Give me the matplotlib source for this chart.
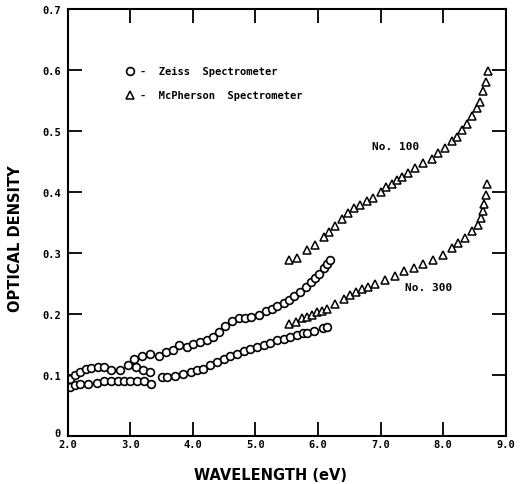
import numpy as np
import matplotlib
matplotlib.use('Agg')
from matplotlib import pyplot as plt
from matplotlib.transforms import ScaledTranslation

# Zeiss spectrometer, sample No. 100 (two scans)
zeiss100_x_a = [2.03, 2.12, 2.20, 2.29, 2.38, 2.48, 2.58, 2.70, 2.83, 2.97, 3.09, 3.21, 3.32]
zeiss100_y_a = [0.094, 0.100, 0.106, 0.110, 0.112, 0.113, 0.113, 0.109, 0.109, 0.116, 0.114, 0.109, 0.106]
zeiss100_x_b = [3.06, 3.18, 3.32, 3.46, 3.57, 3.68, 3.78, 3.91, 4.01, 4.12, 4.22, 4.33, 4.42,
                4.51, 4.62, 4.73, 4.84, 4.93, 5.05, 5.17, 5.26, 5.35, 5.46, 5.54, 5.62, 5.71,
                5.81, 5.89, 5.95, 6.02, 6.09, 6.15, 6.19]
zeiss100_y_b = [0.127, 0.131, 0.134, 0.131, 0.138, 0.142, 0.149, 0.146, 0.151, 0.155, 0.158,
                0.163, 0.171, 0.180, 0.189, 0.193, 0.194, 0.195, 0.199, 0.205, 0.209, 0.214,
                0.218, 0.224, 0.230, 0.237, 0.245, 0.252, 0.259, 0.266, 0.275, 0.283, 0.288]

# Zeiss spectrometer, sample No. 300 (two scans)
zeiss300_x_a = [2.04, 2.12, 2.20, 2.33, 2.47, 2.58, 2.70, 2.81, 2.90, 3.00, 3.10, 3.22, 3.33]
zeiss300_y_a = [0.080, 0.084, 0.086, 0.086, 0.088, 0.090, 0.090, 0.090, 0.091, 0.091, 0.091,
                0.090, 0.086]
zeiss300_x_b = [3.50, 3.59, 3.71, 3.85, 3.97, 4.06, 4.16, 4.27, 4.38, 4.49, 4.59, 4.70, 4.81,
                4.91, 5.02, 5.14, 5.24, 5.35, 5.46, 5.55, 5.66, 5.76, 5.83, 5.93, 6.08, 6.14]
zeiss300_y_b = [0.097, 0.097, 0.098, 0.102, 0.106, 0.108, 0.111, 0.117, 0.122, 0.127, 0.131,
                0.135, 0.139, 0.143, 0.146, 0.150, 0.153, 0.157, 0.160, 0.163, 0.166, 0.169,
                0.170, 0.172, 0.177, 0.179]

# McPherson spectrometer
mcp100_x = [5.53, 5.67, 5.83, 5.95, 6.09, 6.18, 6.27, 6.38, 6.48, 6.57, 6.67, 6.78, 6.88,
            7.00, 7.09, 7.18, 7.26, 7.34, 7.44, 7.55, 7.68, 7.82, 7.92, 8.03, 8.14, 8.22,
            8.30, 8.38, 8.46, 8.54, 8.59, 8.63, 8.69, 8.72]
mcp100_y = [0.288, 0.292, 0.305, 0.314, 0.326, 0.335, 0.345, 0.356, 0.366, 0.374, 0.379,
            0.385, 0.390, 0.400, 0.408, 0.414, 0.420, 0.425, 0.432, 0.440, 0.447, 0.455,
            0.464, 0.473, 0.483, 0.491, 0.501, 0.512, 0.524, 0.537, 0.548, 0.565, 0.581, 0.598]
mcp300_x = [5.53, 5.65, 5.74, 5.83, 5.91, 5.99, 6.07, 6.15, 6.27, 6.41, 6.51, 6.61, 6.70,
            6.80, 6.91, 7.07, 7.23, 7.38, 7.53, 7.68, 7.83, 7.99, 8.14, 8.24, 8.35, 8.46,
            8.55, 8.60, 8.64, 8.65, 8.69, 8.70]
mcp300_y = [0.184, 0.188, 0.193, 0.195, 0.198, 0.203, 0.206, 0.209, 0.216, 0.225, 0.232,
            0.237, 0.242, 0.245, 0.249, 0.256, 0.263, 0.270, 0.276, 0.282, 0.289, 0.297,
            0.308, 0.316, 0.325, 0.336, 0.346, 0.357, 0.369, 0.381, 0.395, 0.413]

xticks = [2.0, 3.0, 4.0, 5.0, 6.0, 7.0, 8.0, 9.0]
xlabels = ['2.0', '3.0', '4.0', '5.0', '6.0', '7.0', '8.0', '9.0']
yticks = [0, 0.1, 0.2, 0.3, 0.4, 0.5, 0.6, 0.7]
ylabels = ['0', '0.1', '0.2', '0.3', '0.4', '0.5', '0.6', '0.7']

mono = 'DejaVu Sans Mono'

fig = plt.figure(figsize=(5.23, 4.85), dpi=100)
ax = fig.add_axes([0.1294, 0.0984, 0.8376, 0.881])

circ = dict(marker='o', ms=5.6, mfc='white', mec='black', mew=1.2, ls='none')
tri = dict(marker='^', ms=6, mfc='white', mec='black', mew=1.1, ls='none')

ax.plot(zeiss100_x_a, zeiss100_y_a, **circ)
ax.plot(zeiss100_x_b, zeiss100_y_b, **circ)
ax.plot(zeiss300_x_a, zeiss300_y_a, **circ)
ax.plot(zeiss300_x_b, zeiss300_y_b, **circ)
ax.plot(mcp100_x, mcp100_y, **tri)
ax.plot(mcp300_x, mcp300_y, **tri)

# hand drawn legend
ax.plot([3.0], [0.598], **circ)
ax.plot([3.0], [0.559], **tri)
ax.text(3.15, 0.598, '-  Zeiss  Spectrometer', family=mono, fontsize=7.5, fontweight='bold', va='center')
ax.text(3.15, 0.559, '-  McPherson  Spectrometer', family=mono, fontsize=7.5, fontweight='bold', va='center')

ax.text(7.24, 0.476, 'No. 100', family=mono, fontsize=8, fontweight='bold', ha='center', va='center')
ax.text(7.76, 0.245, 'No. 300', family=mono, fontsize=8, fontweight='bold', ha='center', va='center')

ax.set_xlim(2.0, 9.0)
ax.set_ylim(0, 0.7)
ax.set_xticks(xticks)
ax.set_xticklabels(xlabels)
ax.set_yticks(yticks)
ax.set_yticklabels(ylabels)
ax.tick_params(direction='in', length=10, width=1.3, top=True, right=True, labelsize=7.5)
ax.tick_params(axis='x', pad=2)
ax.tick_params(axis='y', pad=5)
for lab in ax.get_xticklabels() + ax.get_yticklabels():
    lab.set_fontweight('bold')
    lab.set_family(mono)
# lift the "0" a little so it sits above "2.0" like in the original
zero = ax.get_yticklabels()[0]
zero.set_transform(zero.get_transform() + ScaledTranslation(0, 3 / 72, fig.dpi_scale_trans))
for sp in ax.spines.values():
    sp.set_linewidth(1.5)

ax.set_xlabel('WAVELENGTH (eV)', fontsize=10.5, fontweight='bold')
ax.set_ylabel('OPTICAL DENSITY', fontsize=10.5, fontweight='bold')
ax.xaxis.set_label_coords(0.462, -0.072)
ax.yaxis.set_label_coords(-0.102, 0.464)

plt.savefig('out.png', dpi=100)
